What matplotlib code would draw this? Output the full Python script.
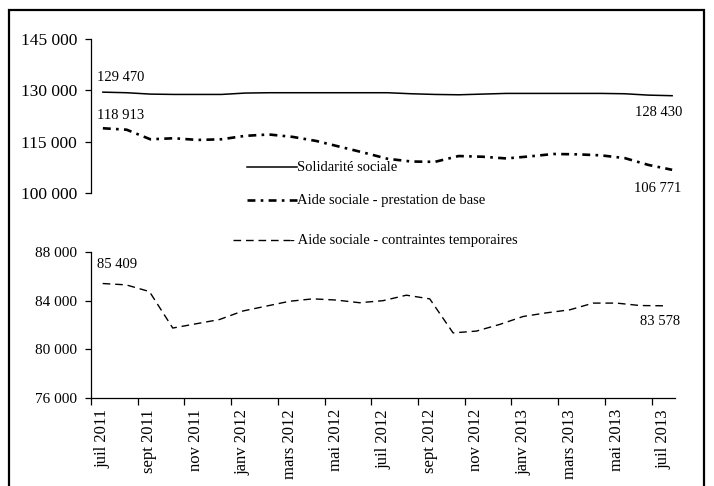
import matplotlib
matplotlib.use('Agg')
import matplotlib.pyplot as plt
from matplotlib.lines import Line2D
from matplotlib.patches import Rectangle
from matplotlib.ticker import FuncFormatter

plt.rcParams['font.family'] = ['Liberation Serif', 'DejaVu Serif']

# mois de juil 2011 a juil 2013
mois = ['juil 2011', 'août 2011', 'sept 2011', 'oct 2011', 'nov 2011', 'déc 2011',
        'janv 2012', 'févr 2012', 'mars 2012', 'avr 2012', 'mai 2012', 'juin 2012',
        'juil 2012', 'août 2012', 'sept 2012', 'oct 2012', 'nov 2012', 'déc 2012',
        'janv 2013', 'févr 2013', 'mars 2013', 'avr 2013', 'mai 2013', 'juin 2013',
        'juil 2013']

solidarite = [129470, 129300, 128900, 128800, 128800, 128800, 129200, 129300, 129300,
              129300, 129300, 129300, 129300, 129000, 128800, 128700, 128900, 129100,
              129100, 129100, 129100, 129100, 129000, 128600, 128430]

prestation_base = [118913, 118500, 115700, 116000, 115500, 115700, 116700, 117100, 116400,
                   115200, 113500, 111800, 110000, 109200, 109100, 110800, 110600, 110100,
                   110700, 111400, 111300, 111000, 110200, 108200, 106771]

contraintes_temp = [85409, 85300, 84750, 81750, 82100, 82450, 83150, 83550, 83950,
                    84150, 84050, 83830, 84000, 84450, 84150, 81350, 81500, 82050,
                    82700, 83000, 83250, 83800, 83800, 83600, 83578]

W, H = 714, 486
fig = plt.figure(figsize=(W / 100, H / 100), dpi=100)


def fx(px):
    return px / W


def fy(py):
    return 1 - py / H


def milliers(v, pos=None):
    return '{:,.0f}'.format(v).replace(',', ' ')


x = list(range(len(mois)))

# graphique du haut
ax1 = fig.add_axes([fx(91), fy(193), fx(684 - 91), (193 - 39) / H])
ax1.plot(x, solidarite, color='black', lw=1.1)
ax1.plot(x, prestation_base, color='black', lw=1.9, dashes=(3, 2, 1, 2))
ax1.set_xlim(-0.5, len(mois) - 0.5)
ax1.set_ylim(100000, 145000)
ax1.set_yticks([100000, 115000, 130000, 145000])
ax1.yaxis.set_major_formatter(FuncFormatter(milliers))
for s in ['top', 'right', 'bottom']:
    ax1.spines[s].set_visible(False)
ax1.spines['left'].set_linewidth(0.9)
ax1.set_xticks([])
ax1.tick_params(axis='y', direction='out', length=4, width=0.9, pad=6, labelsize=12.5)
ax1.patch.set_alpha(0)

# graphique du bas
ax2 = fig.add_axes([fx(91), fy(398), fx(675 - 91), (398 - 252) / H])
ax2.plot(x, contraintes_temp, color='black', lw=1.0, dashes=(5.5, 3.5))
ax2.set_xlim(-0.5, len(mois) - 0.5)
ax2.set_ylim(76000, 88000)
ax2.set_yticks([76000, 80000, 84000, 88000])
ax2.yaxis.set_major_formatter(FuncFormatter(milliers))
for s in ['top', 'right']:
    ax2.spines[s].set_visible(False)
ax2.spines['left'].set_linewidth(0.9)
ax2.spines['bottom'].set_linewidth(0.9)
ax2.set_xticks(x[::2])
ax2.set_xticklabels(mois[::2], rotation=90)
ax2.set_xticks([i - 0.5 for i in x[::2]], minor=True)
ax2.tick_params(axis='x', which='major', length=0, pad=8, labelsize=12)
ax2.tick_params(axis='x', which='minor', direction='out', length=5, width=0.9)
ax2.tick_params(axis='y', direction='out', length=4, width=0.9, pad=6, labelsize=11)
ax2.patch.set_alpha(0)

# valeurs de debut et de fin
kw = dict(textcoords='offset pixels', va='center', fontsize=10.5)
ax1.annotate(milliers(solidarite[0]), (0, solidarite[0]), xytext=(-6, 15), ha='left', **kw)
ax1.annotate(milliers(prestation_base[0]), (0, prestation_base[0]), xytext=(-6, 13), ha='left', **kw)
ax1.annotate(milliers(solidarite[-1]), (x[-1], solidarite[-1]), xytext=(10, -17), ha='right', **kw)
ax1.annotate(milliers(prestation_base[-1]), (x[-1], prestation_base[-1]), xytext=(9, -19), ha='right', **kw)
ax2.annotate(milliers(contraintes_temp[0]), (0, contraintes_temp[0]), xytext=(-6, 19), ha='left', **kw)
ax2.annotate(milliers(contraintes_temp[-1]), (x[-1], contraintes_temp[-1]), xytext=(17, -16), ha='right', **kw)

# legende
leg = [
    (247, 297, 167, dict(lw=1.1), 'Solidarité sociale'),
    (247, 297, 200, dict(lw=1.9, dashes=(3, 2, 1, 2)), 'Aide sociale - prestation de base'),
    (233, 290, 240, dict(lw=1.0, dashes=(5.5, 3.5)), '- Aide sociale - contraintes temporaires'),
]
for x0, x1, yy, style, txt in leg:
    fig.add_artist(Line2D([fx(x0), fx(x1)], [fy(yy), fy(yy)], color='black',
                          transform=fig.transFigure, **style))
    fig.text(fx(x1), fy(yy), txt, ha='left', va='center', fontsize=10.5)

# cadre
fig.add_artist(Rectangle((fx(9), fy(500)), fx(704 - 9), (500 - 10) / H, fill=False,
                         edgecolor='black', lw=1.6, transform=fig.transFigure))

fig.savefig('out.png', dpi=100)
